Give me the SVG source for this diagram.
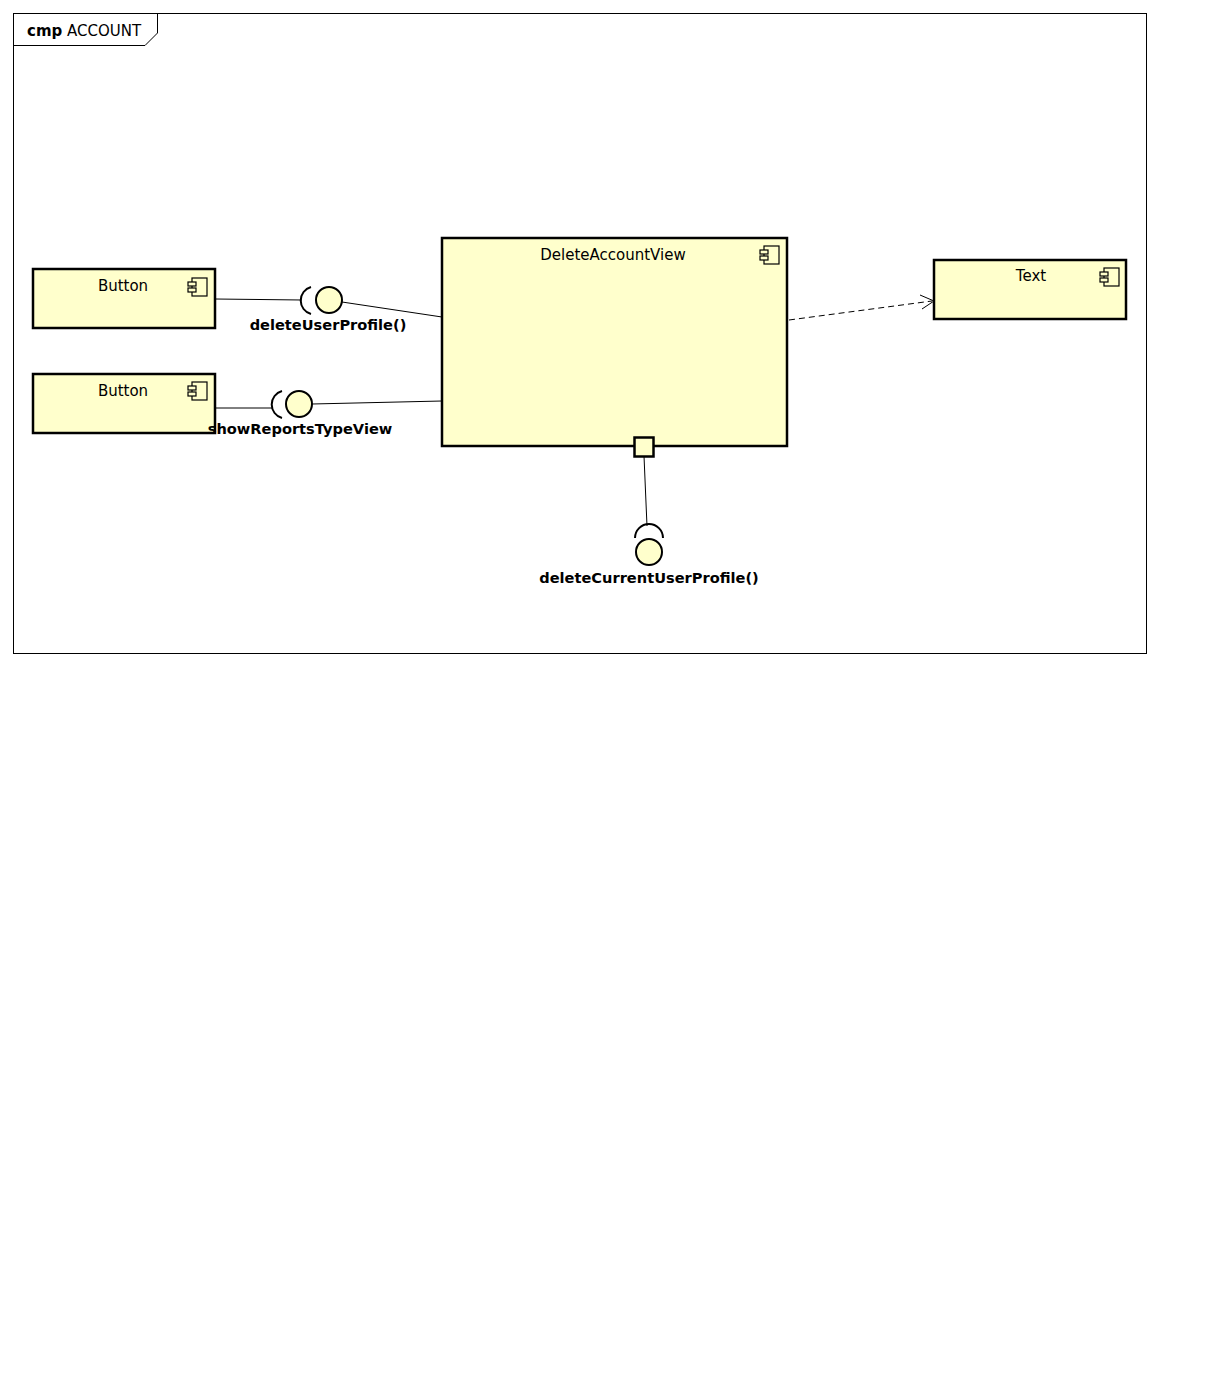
<svg xmlns="http://www.w3.org/2000/svg" width="1225" height="1377" viewBox="0 0 1225 1377">
<style>
.comp{fill:#ffffcc;stroke:#000;stroke-width:2.5}
.ic{fill:#ffffcc;stroke:#000;stroke-width:1.2}
.lbl{font-family:"DejaVu Sans",sans-serif;font-size:15px;fill:#000;text-anchor:middle}
.bl{font-family:"DejaVu Sans",sans-serif;font-size:14.6px;font-weight:bold;fill:#000;text-anchor:middle}
.ln{fill:none;stroke:#000;stroke-width:1}
.ball{fill:#ffffcc;stroke:#000;stroke-width:2}
.sock{fill:none;stroke:#000;stroke-width:2}
</style>
<defs>
<g id="icon">
<rect class="ic" x="4" y="0" width="15" height="18"/>
<rect class="ic" x="0" y="4" width="8" height="4"/>
<rect class="ic" x="0" y="10" width="8" height="4"/>
</g>
</defs>
<rect width="1225" height="1377" fill="#fff"/>
<g id="frame">
<rect x="13.5" y="13.5" width="1133" height="640" fill="none" stroke="#000" stroke-width="1"/>
<path d="M13.5 45.5 H145 L157.5 33 V13.5" fill="none" stroke="#000" stroke-width="1"/>
<text x="27" y="36" font-family="DejaVu Sans,sans-serif" font-size="15"><tspan font-weight="bold">cmp</tspan> ACCOUNT</text>
</g>
<g id="connectors">
<line class="ln" x1="215" y1="299" x2="302" y2="300"/>
<path class="sock" d="M311 287 A14 14 0 0 0 311 314"/>
<line class="ln" x1="342" y1="302" x2="442" y2="317"/>
<line class="ln" x1="215" y1="408" x2="272" y2="408"/>
<path class="sock" d="M282 391 A14 14 0 0 0 282 418"/>
<line class="ln" x1="312" y1="404" x2="442" y2="401"/>
<line class="ln" x1="644" y1="456" x2="647" y2="526"/>
<path class="sock" d="M635 538 A14 14 0 0 1 663 538"/>
<line class="ln" x1="789" y1="320" x2="932" y2="301" stroke-dasharray="6,4"/>
<path class="ln" d="M920 295 L934 301 L922 309"/>
</g>
<g id="button1">
<rect class="comp" x="33" y="269" width="182" height="59"/>
<text class="lbl" x="123" y="291">Button</text>
<use href="#icon" x="188" y="278"/>
</g>
<g id="button2">
<rect class="comp" x="33" y="374" width="182" height="59"/>
<text class="lbl" x="123" y="396">Button</text>
<use href="#icon" x="188" y="382"/>
</g>
<g id="deleteAccountView">
<rect class="comp" x="442" y="238" width="345" height="208"/>
<text class="lbl" x="613" y="260">DeleteAccountView</text>
<use href="#icon" x="760" y="246"/>
<rect class="comp" x="634.5" y="437.5" width="19" height="19" stroke-width="2"/>
</g>
<g id="text">
<rect class="comp" x="934" y="260" width="192" height="59"/>
<text class="lbl" x="1031" y="281">Text</text>
<use href="#icon" x="1100" y="268"/>
</g>
<g id="ball1"><circle class="ball" cx="329" cy="300" r="13"/><text class="bl" x="328" y="330">deleteUserProfile()</text></g>
<g id="ball2"><circle class="ball" cx="299" cy="404" r="13"/><text class="bl" x="300" y="434">showReportsTypeView</text></g>
<g id="ball3"><circle class="ball" cx="649" cy="552" r="13"/><text class="bl" x="649" y="583">deleteCurrentUserProfile()</text></g>
</svg>
